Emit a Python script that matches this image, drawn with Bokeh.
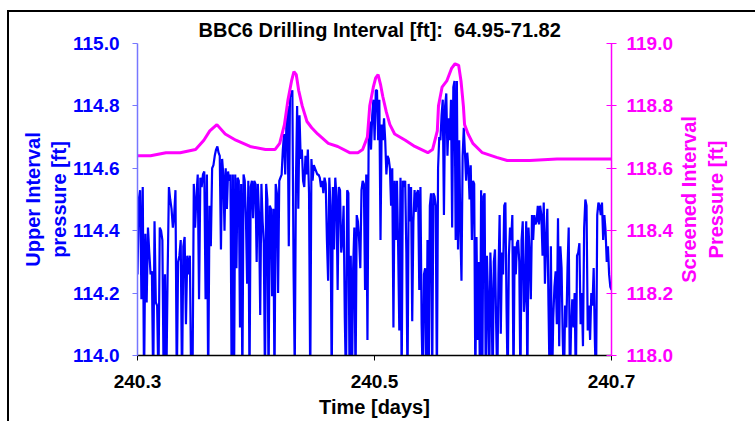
import numpy as np
from bokeh.plotting import figure
from bokeh.layouts import row
from bokeh.models import LinearAxis, Range1d, FixedTicker, PrintfTickFormatter
from bokeh.embed import file_html
from bokeh.resources import INLINE

title_text = "BBC6 Drilling Interval [ft]: \u00a064.95-71.82"
x_label = "Time [days]"
left_label = "Upper Interval\npressure [ft]"
right_label = "Screened Interval\nPressure [ft]"
x_ticks = [240.3, 240.5, 240.7]
left_ticks = [114.0, 114.2, 114.4, 114.6, 114.8, 115.0]
right_ticks = [118.0, 118.2, 118.4, 118.6, 118.8, 119.0]

# time boundaries (days) of the sampled stretches of the upper-interval record
segment_edges = [240.3, 240.3674, 240.4347, 240.5021, 240.5695, 240.6368, 240.7]

upper_seg1 = [114.26, 114.50, 114.53, 114.18, 114.54, 113.90, 114.39, 114.17, 114.41, 114.33,
              114.26, 114.27, 113.90, 114.43, 114.17, 114.16, 113.90, 114.41, 114.40, 114.37,
              113.90, 114.26, 113.90, 114.26, 114.54, 114.50, 114.47, 114.41, 114.45, 114.53,
              113.90, 114.30, 114.32, 114.37, 113.90, 114.35, 114.38, 114.10, 114.32, 114.26,
              114.32, 113.90, 113.90, 114.55, 114.41, 114.51, 114.58, 114.18, 114.57, 114.54,
              114.58, 114.59, 114.18, 114.58, 113.90, 114.48, 114.35, 114.60, 114.61, 114.64,
              114.66]
upper_seg2 = [114.67, 114.65, 114.64, 114.34, 114.63, 114.58, 114.40, 114.60, 114.47, 114.59,
              114.56, 114.58, 113.90, 114.58, 113.90, 114.58, 114.28, 114.57, 114.56, 114.09,
              114.55, 113.90, 114.58, 114.56, 114.44, 114.23, 114.56, 113.90, 114.54, 114.56,
              114.44, 114.56, 114.55, 114.30, 114.55, 114.45, 114.13, 114.55, 114.43, 114.36,
              113.90, 114.55, 114.50, 113.90, 114.48, 114.47, 114.19, 114.47, 113.90, 114.55,
              114.52, 114.20, 114.56, 114.57, 114.58, 114.66, 114.71, 114.58, 114.74, 114.80,
              114.35, 114.84, 114.83, 114.85, 114.28, 113.95, 114.55]
upper_seg3 = [114.80, 114.47, 114.77, 114.63, 114.66, 114.56, 114.54, 114.64, 114.58, 114.66,
              114.52, 113.90, 114.63, 114.56, 114.61, 114.60, 114.59, 114.58, 114.58, 114.57,
              114.54, 114.56, 114.52, 114.57, 114.55, 114.37, 114.24, 114.57, 114.48, 113.90,
              114.54, 114.34, 114.57, 114.51, 114.21, 114.54, 114.53, 114.33, 114.37, 114.48,
              114.12, 113.90, 114.53, 114.52, 113.90, 114.32, 113.90, 114.28, 114.41, 113.90,
              114.45, 114.43, 114.37, 114.28, 114.53, 114.56, 114.55, 114.21, 114.58, 114.05,
              114.69, 114.75, 114.66, 114.77, 114.82, 114.69, 114.85]
upper_seg4 = [114.85, 114.69, 114.82, 114.37, 114.74, 114.69, 114.76, 114.69, 114.58, 114.64,
              114.63, 114.60, 114.48, 114.60, 114.09, 114.56, 114.37, 114.56, 114.35, 114.08,
              114.57, 113.90, 114.56, 114.54, 114.56, 114.33, 113.90, 114.55, 114.43, 114.54,
              114.11, 114.43, 114.53, 114.46, 114.52, 114.53, 114.21, 114.54, 114.10, 113.90,
              114.26, 114.28, 113.90, 114.37, 113.90, 114.48, 114.52, 113.90, 114.52, 114.51,
              114.48, 113.90, 114.60, 114.70, 114.69, 114.77, 114.82, 114.45, 114.80, 114.84,
              114.64, 114.76, 114.69, 114.82, 114.41, 114.86, 114.88, 114.37]
upper_seg5 = [114.88, 114.34, 114.69, 114.41, 114.24, 114.64, 114.73, 114.65, 114.56, 114.65,
              114.60, 114.50, 114.61, 114.37, 114.56, 114.55, 113.90, 114.38, 114.05, 114.30,
              113.90, 114.53, 113.90, 114.51, 114.52, 113.90, 114.32, 114.18, 113.90, 114.33,
              114.20, 113.90, 114.30, 114.34, 114.10, 113.90, 114.26, 114.45, 114.07, 114.33,
              114.26, 114.48, 114.49, 114.15, 113.90, 114.32, 114.41, 114.37, 114.45, 113.90,
              114.35, 114.26, 114.36, 114.37, 114.30, 113.90, 114.37, 114.43, 114.14, 114.20,
              114.43, 113.90, 114.41, 114.32, 114.18, 114.45, 114.37, 114.45, 114.42]
upper_seg6 = [114.43, 114.48, 114.42, 114.48, 114.45, 114.32, 114.49, 114.23, 114.37, 114.47,
              114.16, 113.90, 114.35, 113.90, 114.12, 114.22, 114.27, 114.10, 114.44, 114.03,
              114.35, 114.28, 114.05, 113.90, 114.16, 114.09, 114.28, 114.41, 113.90, 114.09,
              114.18, 114.09, 114.20, 113.90, 114.32, 114.33, 114.36, 114.10, 114.20, 114.03,
              114.41, 114.50, 114.48, 114.08, 114.16, 114.05, 114.20, 114.16, 114.28, 114.05,
              113.90, 114.45, 114.49, 114.48, 114.45, 114.49, 114.37, 114.45, 114.40, 114.30,
              114.35, 114.26, 114.22, 114.21]

screen_time = [240.300, 240.311, 240.324, 240.336, 240.349, 240.356, 240.361, 240.367, 240.374,
               240.383, 240.395, 240.408, 240.416, 240.420, 240.424, 240.427, 240.430, 240.432,
               240.434, 240.436, 240.439, 240.443, 240.447, 240.452, 240.461, 240.469, 240.479,
               240.486, 240.490, 240.494, 240.496, 240.499, 240.501, 240.503, 240.505, 240.507,
               240.510, 240.513, 240.517, 240.526, 240.534, 240.545, 240.549, 240.553, 240.554,
               240.557, 240.561, 240.565, 240.568, 240.571, 240.573, 240.575, 240.576, 240.579,
               240.583, 240.591, 240.603, 240.612, 240.631, 240.654, 240.673, 240.700]
screen_press = [118.64, 118.64, 118.65, 118.65, 118.66, 118.69, 118.72, 118.74, 118.71,
                118.69, 118.67, 118.66, 118.66, 118.68, 118.74, 118.82, 118.88, 118.91,
                118.90, 118.85, 118.80, 118.75, 118.73, 118.71, 118.68, 118.67, 118.65,
                118.65, 118.66, 118.70, 118.80, 118.86, 118.89, 118.90, 118.87, 118.83,
                118.78, 118.74, 118.71, 118.69, 118.67, 118.65, 118.66, 118.72, 118.80,
                118.86, 118.88, 118.92, 118.935, 118.93, 118.88, 118.80, 118.74, 118.71,
                118.68, 118.65, 118.635, 118.625, 118.625, 118.63, 118.63, 118.63]

segments = [upper_seg1, upper_seg2, upper_seg3, upper_seg4, upper_seg5, upper_seg6]
t_parts = []
for i, seg in enumerate(segments):
    t_parts.append(np.linspace(segment_edges[i], segment_edges[i + 1], len(seg),
                               endpoint=(i == len(segments) - 1)))
upper_time = np.concatenate(t_parts)
upper_press = np.concatenate([np.array(s) for s in segments])

FONT = "Liberation Sans"
BLUE = "#0000ff"
MAGENTA = "#ff00ff"

H = 409
p = figure(width=666, height=H, output_backend="svg", toolbar_location=None,
           x_range=Range1d(240.3, 240.7), y_range=Range1d(114.0, 115.0),
           min_border_left=128, min_border_right=63, min_border_top=31, min_border_bottom=66)
p.extra_y_ranges = {"right": Range1d(118.0, 119.0)}

p.line(upper_time, upper_press, line_color=BLUE, line_width=2.2)
p.line(screen_time, screen_press, line_color=MAGENTA, line_width=3, y_range_name="right")

p.xgrid.visible = False
p.ygrid.visible = False
p.outline_line_color = None
p.background_fill_color = "white"
p.border_fill_color = "white"

p.title.text = title_text
p.title.text_font = FONT
p.title.text_font_size = "20px"
p.title.text_font_style = "bold"
p.title.text_color = "black"
p.title.align = "left"
p.title.offset = 61
p.title.standoff = 6

xa = p.xaxis[0]
xa.ticker = FixedTicker(ticks=x_ticks)
xa.formatter = PrintfTickFormatter(format="%.1f")
xa.axis_label = x_label
xa.axis_line_color = "black"
xa.axis_line_width = 1.5
xa.major_tick_line_color = "black"
xa.major_tick_in = 0
xa.major_tick_out = 5
xa.minor_tick_line_color = None
xa.major_label_text_font = FONT
xa.major_label_text_font_size = "19px"
xa.major_label_text_font_style = "bold"
xa.major_label_text_color = "black"
xa.major_label_standoff = 14
xa.axis_label_text_font = FONT
xa.axis_label_text_font_size = "20px"
xa.axis_label_text_font_style = "bold"
xa.axis_label_text_color = "black"
xa.axis_label_standoff = 5

ya = p.yaxis[0]
ya.ticker = FixedTicker(ticks=left_ticks)
ya.formatter = PrintfTickFormatter(format="%.1f")
ya.axis_label = left_label
ya.axis_line_color = "#7777ff"
ya.axis_line_width = 1.5
ya.major_tick_line_color = "#7777ff"
ya.major_tick_in = 0
ya.major_tick_out = 5
ya.minor_tick_line_color = None
ya.major_label_text_font = FONT
ya.major_label_text_font_size = "19px"
ya.major_label_text_font_style = "bold"
ya.major_label_text_color = BLUE
ya.major_label_standoff = 13
ya.axis_label_text_font = FONT
ya.axis_label_text_font_size = "20px"
ya.axis_label_text_font_style = "bold"
ya.axis_label_text_color = BLUE
ya.axis_label_standoff = 0

ra = LinearAxis(y_range_name="right", ticker=FixedTicker(ticks=right_ticks),
                formatter=PrintfTickFormatter(format="%.1f"))
ra.axis_line_color = MAGENTA
ra.axis_line_width = 1.5
ra.major_tick_line_color = MAGENTA
ra.major_tick_in = 5
ra.major_tick_out = 5
ra.minor_tick_line_color = None
ra.major_label_text_font = FONT
ra.major_label_text_font_size = "19px"
ra.major_label_text_font_style = "bold"
ra.major_label_text_color = MAGENTA
ra.major_label_standoff = 10
p.add_layout(ra, "right")

# narrow companion panel carrying the right-hand axis title (reads bottom-to-top)
p2 = figure(width=80, height=H, output_backend="svg", toolbar_location=None,
            x_range=Range1d(0, 1), y_range=Range1d(118.0, 119.0),
            min_border_left=48, min_border_right=0, min_border_top=31, min_border_bottom=66)
p2.xaxis.visible = False
p2.xgrid.visible = False
p2.ygrid.visible = False
p2.outline_line_color = None
p2.border_fill_color = "white"
p2.background_fill_color = "white"
ya2 = p2.yaxis[0]
ya2.ticker = FixedTicker(ticks=[])
ya2.axis_line_color = None
ya2.major_tick_line_color = None
ya2.minor_tick_line_color = None
ya2.major_label_text_font_size = "0px"
ya2.major_label_standoff = 0
ya2.major_tick_out = 0
ya2.axis_label = right_label
ya2.axis_label_text_font = FONT
ya2.axis_label_text_font_size = "20px"
ya2.axis_label_text_font_style = "bold"
ya2.axis_label_text_color = MAGENTA
ya2.axis_label_standoff = 0

layout = row(p, p2, styles={"margin-left": "7px", "margin-top": "10px",
                            "border-top": "2px solid #000000",
                            "border-left": "2px solid #000000"})

open("out.html", "w").write(file_html(layout, INLINE))
